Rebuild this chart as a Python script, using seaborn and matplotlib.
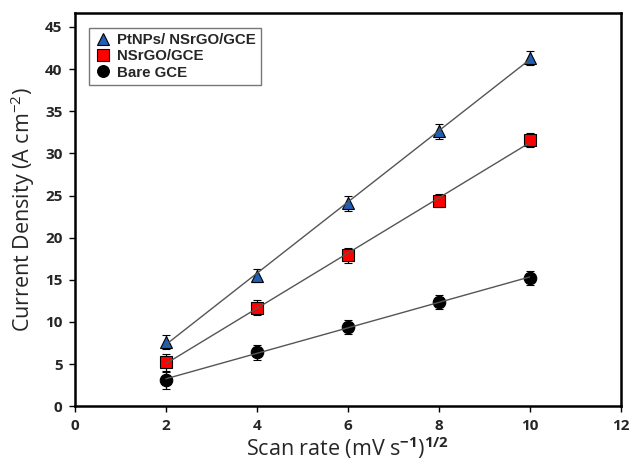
import numpy as np
import pandas as pd
import matplotlib
matplotlib.use('Agg')
import matplotlib.pyplot as plt
import seaborn as sns

scan_rate = [2, 4, 6, 8, 10]
pt_nsrgo = [7.6, 15.5, 24.1, 32.6, 41.3]
pt_nsrgo_err = [0.8, 0.8, 0.9, 0.9, 0.8]
nsrgo = [5.2, 11.7, 17.9, 24.4, 31.6]
nsrgo_err = [1.0, 0.9, 0.9, 0.8, 0.8]
bare = [3.1, 6.4, 9.4, 12.4, 15.2]
bare_err = [1.0, 0.9, 0.8, 0.8, 0.8]

series = [
    ('PtNPs/ NSrGO/GCE', pt_nsrgo, pt_nsrgo_err, '^', '#1f5fb4'),
    ('NSrGO/GCE', nsrgo, nsrgo_err, 's', '#ff0000'),
    ('Bare GCE', bare, bare_err, 'o', 'black'),
]

sns.set_style('ticks')
plt.rcParams['font.family'] = ['Open Sans', 'DejaVu Sans']
plt.rcParams['mathtext.fontset'] = 'custom'
plt.rcParams['mathtext.rm'] = 'Open Sans'
plt.rcParams['mathtext.bf'] = 'Open Sans:bold'

fig = plt.figure(figsize=(6.3, 4.67), dpi=100)
ax = fig.add_axes([0.119, 0.13, 0.866, 0.843])

handles = []
for name, vals, err, mk, col in series:
    df = pd.DataFrame({'x': scan_rate, 'y': vals})
    sns.regplot(data=df, x='x', y='y', ax=ax, scatter=False, ci=None, truncate=True,
                line_kws={'color': '#555555', 'lw': 1.0, 'zorder': 4})
    ax.errorbar(scan_rate, vals, yerr=err, fmt=mk, color=col, mec='black', mew=0.8,
                ms=9, ecolor='black', elinewidth=0.9, capsize=3,
                capthick=0.9, zorder=3)
    h, = ax.plot([], [], mk, color=col, mec='black', mew=0.8, ms=8.5, linestyle='none')
    handles.append(h)

ax.set_xlim(0, 12)
ax.set_ylim(0, 46.7)
ax.set_xticks(range(0, 13, 2))
ax.set_yticks(range(0, 46, 5))
ax.set_xticklabels([str(v) for v in range(0, 13, 2)],
                   fontdict={'family': 'Open Sans', 'weight': 'bold', 'size': 11})
ax.set_yticklabels([str(v) for v in range(0, 46, 5)],
                   fontdict={'family': 'Open Sans', 'weight': 'bold', 'size': 11})
ax.tick_params(direction='out', length=4, width=1, color='black', pad=5)

for sp in ax.spines.values():
    sp.set_visible(True)
    sp.set_linewidth(1.8)
    sp.set_color('black')

ax.set_xlabel(r'Scan rate (mV s$^{\mathbf{-1}}$)$^{\mathbf{1/2}}$', fontsize=15.5, labelpad=2)
ax.set_ylabel(r'Current Density (A cm$^{-2}$)', fontsize=15.5, labelpad=6)

leg = ax.legend(handles, [s[0] for s in series], loc='upper left',
                bbox_to_anchor=(0.012, 0.98), frameon=True, fancybox=False,
                handletextpad=0.3, borderpad=0.35, labelspacing=0.15, handlelength=1.2,
                prop={'family': 'Liberation Sans', 'weight': 'bold', 'size': 10.8})
leg.get_frame().set_edgecolor('#555555')
leg.get_frame().set_linewidth(1.0)

fig.savefig('out.png', dpi=100)
